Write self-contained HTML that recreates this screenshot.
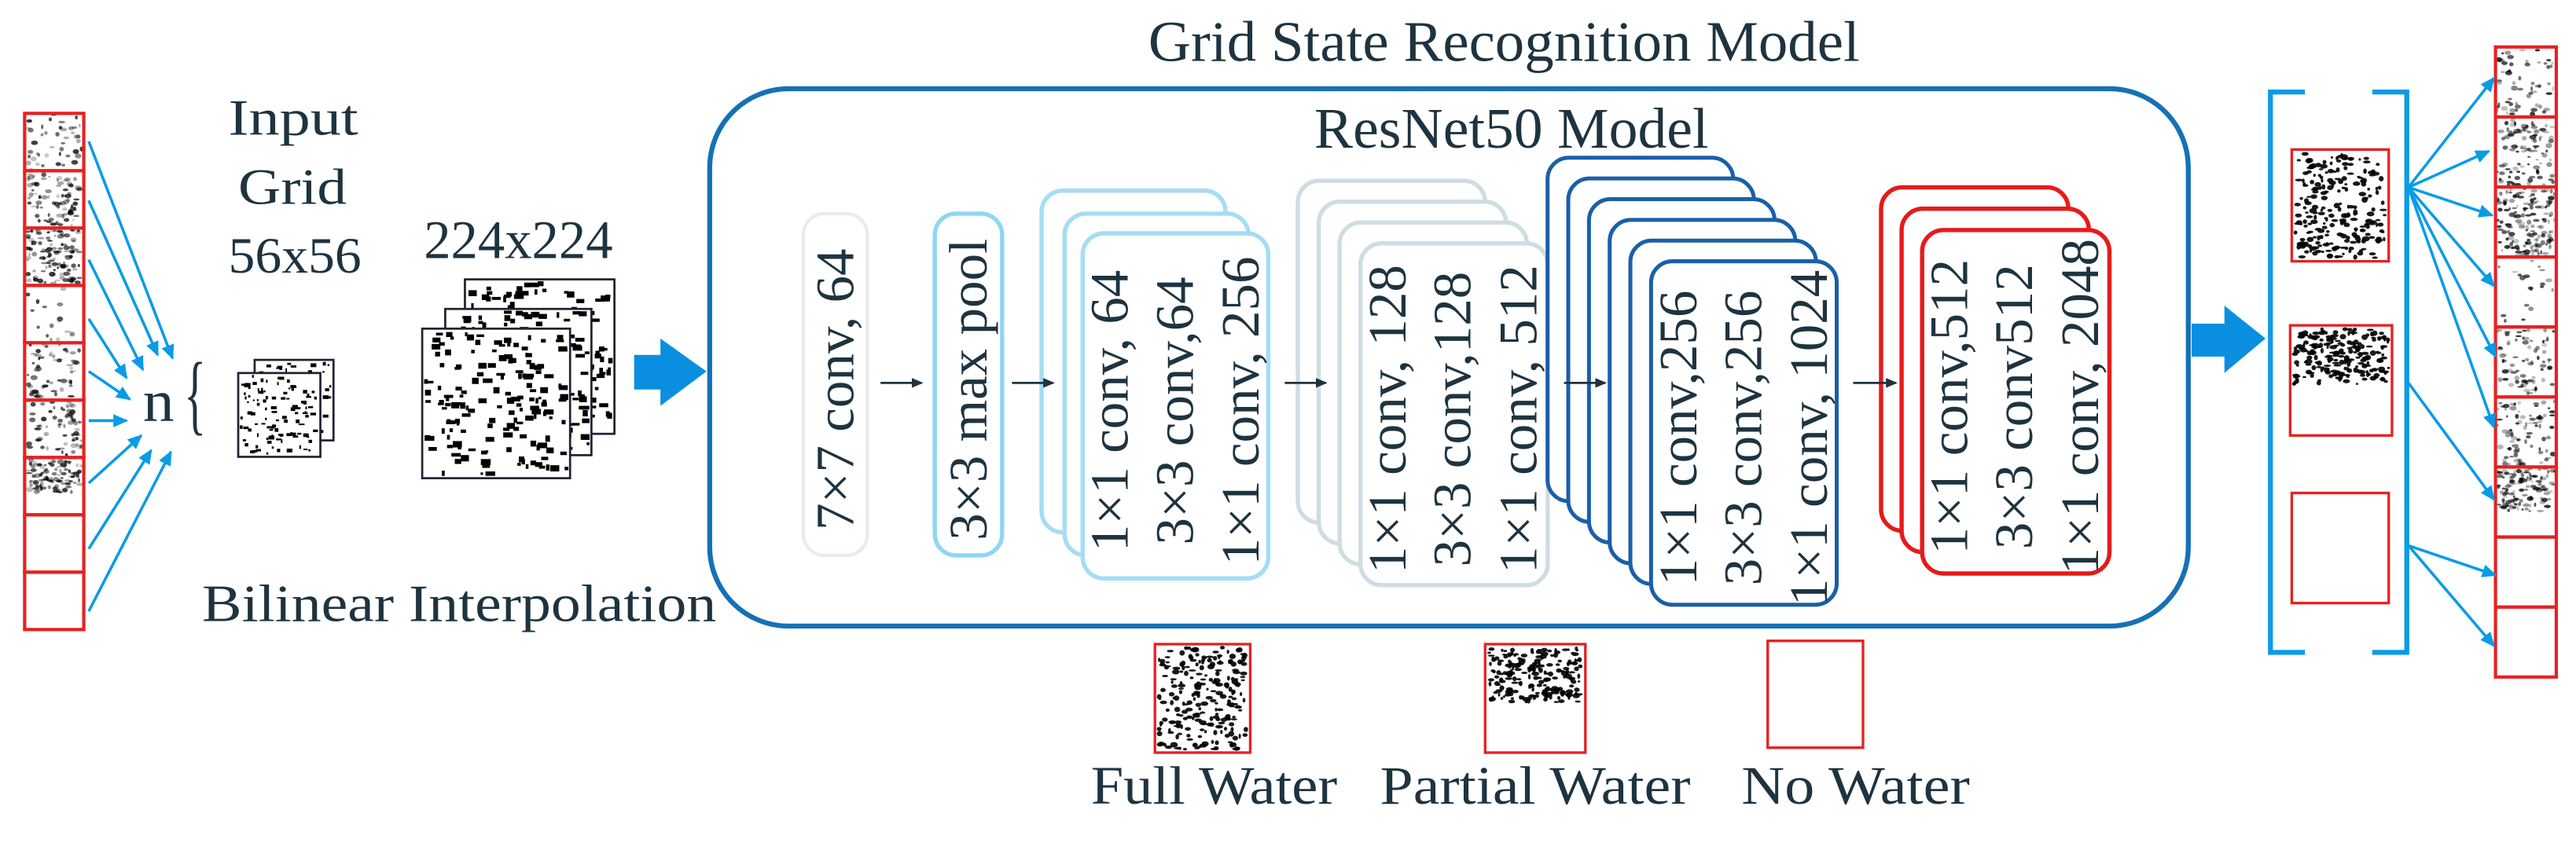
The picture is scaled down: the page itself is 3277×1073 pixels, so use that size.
<!DOCTYPE html>
<html><head><meta charset="utf-8"><style>
html,body{margin:0;padding:0;background:#fff;}
svg{display:block;}
text{font-family:"Liberation Serif",serif;fill:#1e3340;}
</style></head><body>
<svg id="s" width="3277" height="1073" viewBox="0 0 1568 513" preserveAspectRatio="none" xmlns="http://www.w3.org/2000/svg">
<defs>
<marker id="ah" markerWidth="9" markerHeight="8" refX="8" refY="4" orient="auto" markerUnits="userSpaceOnUse"><path d="M0,0 L9,4 L0,8 Z" fill="#0a9be6"/></marker>
<marker id="ak" markerWidth="7" markerHeight="6" refX="6" refY="3" orient="auto" markerUnits="userSpaceOnUse"><path d="M0,0 L7,3 L0,6 Z" fill="#1e3340"/></marker>
</defs>
<text x="699" y="37" font-size="35" textLength="433" lengthAdjust="spacingAndGlyphs">Grid State Recognition Model</text>
<rect x="432" y="54" width="900" height="327" rx="48" fill="none" stroke="#1571b5" stroke-width="3"/>
<text x="800" y="90" font-size="35" textLength="240" lengthAdjust="spacingAndGlyphs">ResNet50 Model</text>
<text x="139" y="82" font-size="31" textLength="79" lengthAdjust="spacingAndGlyphs">Input</text>
<text x="145" y="124" font-size="31" textLength="66" lengthAdjust="spacingAndGlyphs">Grid</text>
<text x="139" y="166" font-size="31" textLength="81" lengthAdjust="spacingAndGlyphs">56x56</text>
<text x="258" y="157" font-size="33" textLength="115" lengthAdjust="spacingAndGlyphs">224x224</text>
<text x="123" y="378" font-size="32" textLength="313" lengthAdjust="spacingAndGlyphs">Bilinear Interpolation</text>
<text x="87" y="256" font-size="36" textLength="19" lengthAdjust="spacingAndGlyphs">n</text>
<text x="0" y="0" font-size="40" transform="translate(112,258) scale(0.7,1.35)">{</text>
<path d="M386,216 h16 v-10 l28,20 l-28,21 v-10 h-16 z" fill="#0a8fe0"/>
<path d="M1334,197 h20 v-11 l25,20 l-25,21 v-10 h-20 z" fill="#0a8fe0"/>
<g id="g"></g>
<path d="M1403,56 h-21 v341 h21 M1444,56 h21 v341 h-21" fill="none" stroke="#0a9be6" stroke-width="3"/>
<text x="664" y="489" font-size="33" textLength="150" lengthAdjust="spacingAndGlyphs">Full Water</text>
<text x="840" y="489" font-size="33" textLength="189" lengthAdjust="spacingAndGlyphs">Partial Water</text>
<text x="1060" y="489" font-size="33" textLength="139" lengthAdjust="spacingAndGlyphs">No Water</text>
</svg>
<script>
var S="http://www.w3.org/2000/svg",g=document.getElementById('g');
function el(t,a,p){var e=document.createElementNS(S,t);for(var k in a)e.setAttribute(k,a[k]);(p||g).appendChild(e);return e;}
var seed=7;function R(){seed=(seed*16807)%2147483647;return seed/2147483647;}
function tex(x,y,w,h,d,r,frac,soft){var f=frac||1;var n=Math.round(w*h*f*d);for(var i=0;i<n;i++){var rx=r*(0.3+R()*0.7),ry=r*(0.25+R()*0.45);
 el('ellipse',{cx:x+rx+R()*(w-2*rx),cy:y+ry+R()*(h*f-2*ry),rx:rx,ry:ry,fill:'#000','fill-opacity':soft?(0.2+R()*0.6):0.9});}}
function blocks(x,y,w,h,d,r){var n=Math.round(w*h*d);for(var i=0;i<n;i++){var bw=r*(0.5+R()*1.5),bh=r*(0.5+R()*0.8);el('rect',{x:x+R()*(w-bw),y:y+R()*(h-bh),width:bw,height:bh,fill:'#000'});}}
function ln(x1,y1,x2,y2,c,w,m){var a={x1:x1,y1:y1,x2:x2,y2:y2,stroke:c,'stroke-width':w};if(m)a['marker-end']='url(#'+m+')';el('line',a);}
var cd=[0.035,0.06,0.09,0.012,0.045,0.05,0.12,0,0],cf=[1,1,1,1,1,1,0.65,1,1];
for(var i=0;i<9;i++){var y=69+i*34.9;if(cd[i])tex(15,y,36,34.9,cd[i],2.2,cf[i],true);el('rect',{x:15,y:y,width:36,height:34.9,fill:'none',stroke:'#e52222','stroke-width':2});}
var st=[86,122,158,194,226,256,294,334,372],tp=[[105,218],[96,216],[87,225],[77,230],[79,243],[77,256],[86,265],[92,274],[104,275]];
for(var i=0;i<9;i++)ln(54,st[i],tp[i][0],tp[i][1],'#0a9be6',1.7,'ah');
function img(x,y,w,h,d,r){el('rect',{x:x,y:y,width:w,height:h,fill:'#fff'});blocks(x+1,y+1,w-2,h-2,d,r);el('rect',{x:x,y:y,width:w,height:h,fill:'none',stroke:'#223','stroke-width':1.3});}
img(155,219,48,49,0.045,1.8);img(145,227,50,51,0.045,1.8);
img(283,170,91,94,0.02,3);img(271,188,89,89,0.02,3);img(257,200,90,91,0.02,3);
function vbox(x,y,w,h,c,lines,sw){el('rect',{x:x,y:y,width:w,height:h,rx:13,fill:'#fff',stroke:c,'stroke-width':sw});
 var off=[16.5,56,96];for(var j=0;j<lines.length;j++){var cx=(lines.length==1?x+w/2:x+off[j])+11,cy=y+h/2+3;var t=el('text',{x:cx,y:cy,'font-size':33,'text-anchor':'middle',transform:'rotate(-90 '+cx+' '+cy+')'});t.textContent=lines[j];}}
vbox(489,130,39,208,'#e6ecef',['7×7 conv, 64'],2);
vbox(569,130,41,208,'#8fd6f4',['3×3 max pool'],2.6);
var L3=['1×1 conv, 64','3×3 conv,64','1×1 conv, 256'];
vbox(634,116,112,208,'#a6dcf5',[],2.6);vbox(648,130,112,208,'#a6dcf5',[],2.6);vbox(659,142,113,210,'#a6dcf5',L3,2.6);
for(var k=0;k<4;k++)vbox(790+k*12.7,110+k*12.7,114,208,'#cfdde3',k==3?['1×1 conv, 128','3×3 conv,128','1×1 conv, 512']:[],2.6);
for(var k=0;k<6;k++)vbox(942+k*12.6,96+k*12.6,113,209,'#1a5fa8',k==5?['1×1 conv,256','3×3 conv,256','1×1 conv, 1024']:[],2.4);
for(var k=0;k<3;k++)vbox(1145+k*12.5,114+k*13,114,209,'#e51b1b',k==2?['1×1 conv,512','3×3 conv512','1×1 conv, 2048']:[],2.6);
ln(536,233,561,233,'#1e3340',1.3,'ak');
ln(616,233,641,233,'#1e3340',1.3,'ak');
ln(782,233,807,233,'#1e3340',1.3,'ak');
ln(952,233,977,233,'#1e3340',1.3,'ak');
ln(1128,233,1154,233,'#1e3340',1.3,'ak');
function rimg(x,y,w,h,d,f){el('rect',{x:x,y:y,width:w,height:h,fill:'#fff'});if(d)tex(x+1,y+1,w-2,h-2,d,2.4,f,false);el('rect',{x:x,y:y,width:w,height:h,fill:'none',stroke:'#e52222','stroke-width':1.6});}
rimg(1395,91,59,68,0.06,1);rimg(1394,198,62,67,0.1,0.55);rimg(1395,300,59,67,0);
rimg(703,392,58,66,0.065,1);rimg(904,392,61,66,0.1,0.55);rimg(1076,390,58,65,0);
var rd=[0.035,0.06,0.09,0.012,0.045,0.05,0.12,0,0],rf=[1,1,1,1,1,1,0.65,1,1];
for(var i=0;i<9;i++){var y=28.6+i*42.6;if(rd[i])tex(1519,y,37,42.6,rd[i],2.2,rf[i],true);el('rect',{x:1519,y:y,width:37,height:42.6,fill:'none',stroke:'#e52222','stroke-width':2});}
var t1=[[1518,47.5],[1515,92],[1517,131],[1518,174],[1519,217],[1518,260]];
for(var i=0;i<6;i++)ln(1466,114,t1[i][0],t1[i][1],'#0a9be6',1.7,'ah');
ln(1466,233,1518,304,'#0a9be6',1.7,'ah');
ln(1466,332,1519,350,'#0a9be6',1.7,'ah');ln(1466,332,1518,393,'#0a9be6',1.7,'ah');
</script>
</body></html>
